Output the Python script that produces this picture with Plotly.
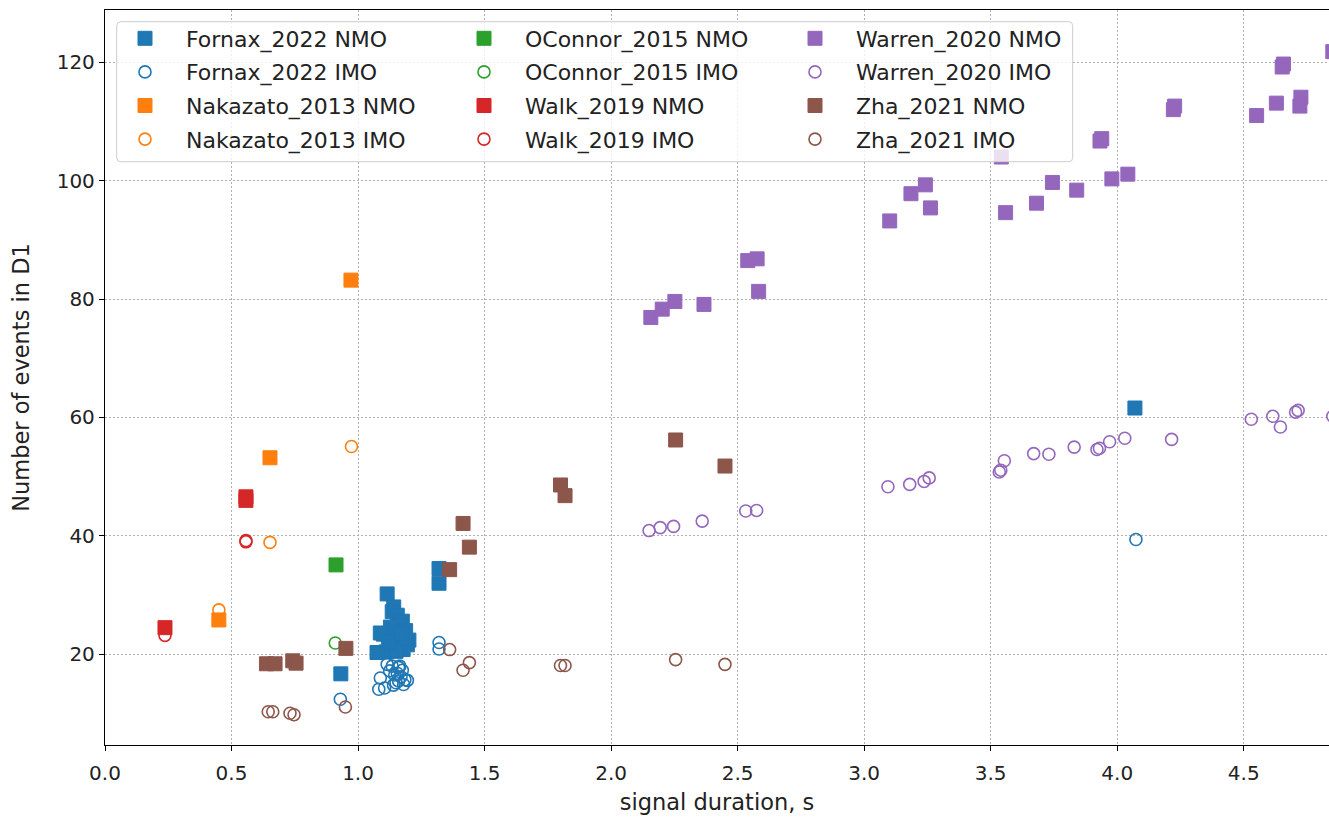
import plotly.graph_objects as go

# ---------------- data ----------------
fornax_nmo_x = [0.932, 1.320, 1.320, 4.070,
                1.115, 1.141, 1.135, 1.155, 1.175, 1.165, 1.188, 1.128, 1.100, 1.088,
                1.145, 1.201, 1.195, 1.160, 1.178, 1.130, 1.110, 1.075, 1.150, 1.185,
                1.170, 1.120]
fornax_nmo_y = [16.7, 34.5, 32.0, 61.6,
                30.2, 28.0, 27.2, 26.6, 25.6, 25.0, 24.0, 24.6, 23.4, 23.6,
                23.0, 22.4, 21.6, 22.0, 20.8, 20.6, 20.4, 20.3, 20.5, 22.8,
                23.5, 22.0]
fornax_imo_x = [0.930, 1.320, 1.320, 4.074,
                1.082, 1.105, 1.088, 1.115, 1.135, 1.125, 1.145, 1.150, 1.160, 1.170,
                1.175, 1.185, 1.195, 1.160, 1.140, 1.180, 1.155, 1.165]
fornax_imo_y = [12.4, 22.0, 20.9, 39.4,
                14.1, 14.3, 16.0, 18.3, 18.0, 17.2, 16.5, 15.2, 15.5, 16.2,
                17.3, 15.7, 15.6, 17.8, 14.8, 14.9, 16.8, 18.0]

nakazato_nmo_x = [0.450, 0.652, 0.972]
nakazato_nmo_y = [25.8, 53.2, 83.2]
nakazato_imo_x = [0.450, 0.652, 0.974]
nakazato_imo_y = [27.5, 38.9, 55.1]

oconnor_nmo_x = [0.913]
oconnor_nmo_y = [35.1]
oconnor_imo_x = [0.910]
oconnor_imo_y = [21.9]

walk_nmo_x = [0.237, 0.557, 0.557]
walk_nmo_y = [24.5, 46.0, 46.6]
walk_imo_x = [0.237, 0.557, 0.557]
walk_imo_y = [23.2, 39.0, 39.2]

warren_nmo_x = [2.157, 2.202, 2.252, 2.367, 2.540, 2.577, 2.583, 3.101, 3.185, 3.242,
                3.262, 3.542, 3.559, 3.681, 3.744, 3.840, 3.932, 3.939, 3.979, 4.042,
                4.222, 4.227, 4.551, 4.629, 4.652, 4.657, 4.722, 4.726, 4.852]
warren_nmo_y = [76.9, 78.3, 79.6, 79.1, 86.5, 86.8, 81.3, 93.2, 97.8, 99.3,
                95.4, 104.0, 94.6, 96.2, 99.7, 98.4, 106.7, 107.1, 100.3, 101.1,
                112.0, 112.6, 111.0, 113.1, 119.2, 119.7, 112.6, 114.1, 121.8]
warren_imo_x = [2.150, 2.194, 2.247, 2.360, 2.532, 2.575, 3.094, 3.180, 3.237, 3.257,
                3.534, 3.540, 3.554, 3.670, 3.730, 3.830, 3.920, 3.930, 3.970, 4.030,
                4.215, 4.530, 4.615, 4.645, 4.705, 4.715, 4.852]
warren_imo_y = [40.9, 41.4, 41.6, 42.5, 44.2, 44.3, 48.3, 48.7, 49.2, 49.8,
                50.8, 51.1, 52.7, 53.9, 53.8, 55.0, 54.6, 54.8, 55.9, 56.5,
                56.3, 59.7, 60.2, 58.4, 60.9, 61.2, 60.2]

zha_nmo_x = [0.638, 0.672, 0.742, 0.755, 0.952, 1.362, 1.415, 1.440, 1.800, 1.818, 2.255, 2.450]
zha_nmo_y = [18.4, 18.4, 18.9, 18.5, 21.0, 34.3, 42.1, 38.1, 48.6, 46.8, 56.2, 51.8]
zha_imo_x = [0.645, 0.663, 0.731, 0.747, 0.950, 1.362, 1.415, 1.440, 1.800, 1.818, 2.255, 2.450]
zha_imo_y = [10.3, 10.3, 10.05, 9.8, 11.1, 20.8, 17.3, 18.6, 18.1, 18.1, 19.1, 18.3]

# name, x, y, colour, symbol, legend column
series = [
    ("Fornax_2022 NMO", fornax_nmo_x, fornax_nmo_y, "#1f77b4", "square", "legend"),
    ("Fornax_2022 IMO", fornax_imo_x, fornax_imo_y, "#1f77b4", "circle-open", "legend"),
    ("Nakazato_2013 NMO", nakazato_nmo_x, nakazato_nmo_y, "#ff7f0e", "square", "legend"),
    ("Nakazato_2013 IMO", nakazato_imo_x, nakazato_imo_y, "#ff7f0e", "circle-open", "legend"),
    ("OConnor_2015 NMO", oconnor_nmo_x, oconnor_nmo_y, "#2ca02c", "square", "legend2"),
    ("OConnor_2015 IMO", oconnor_imo_x, oconnor_imo_y, "#2ca02c", "circle-open", "legend2"),
    ("Walk_2019 NMO", walk_nmo_x, walk_nmo_y, "#d62728", "square", "legend2"),
    ("Walk_2019 IMO", walk_imo_x, walk_imo_y, "#d62728", "circle-open", "legend2"),
    ("Warren_2020 NMO", warren_nmo_x, warren_nmo_y, "#9467bd", "square", "legend3"),
    ("Warren_2020 IMO", warren_imo_x, warren_imo_y, "#9467bd", "circle-open", "legend3"),
    ("Zha_2021 NMO", zha_nmo_x, zha_nmo_y, "#8c564b", "square", "legend3"),
    ("Zha_2021 IMO", zha_imo_x, zha_imo_y, "#8c564b", "circle-open", "legend3"),
]

x_ticks = [0.0, 0.5, 1.0, 1.5, 2.0, 2.5, 3.0, 3.5, 4.0, 4.5]
x_ticklabels = ["0.0", "0.5", "1.0", "1.5", "2.0", "2.5", "3.0", "3.5", "4.0", "4.5"]
y_ticks = [20, 40, 60, 80, 100, 120]

FONT = "DejaVu Sans"
TXT = "#222222"
NB = "\u00a0"

fig = go.Figure()
for i, (name, xs, ys, color, sym, leg) in enumerate(series):
    if sym == "square":
        marker = dict(symbol="square", size=14, color=color, line=dict(color=color, width=1))
    else:
        marker = dict(symbol="circle-open", size=12, color=color, line=dict(color=color, width=1.6))
    fig.add_trace(go.Scatter(
        x=xs, y=ys, mode="markers", name=NB * 3 + name, marker=marker,
        legend=leg, legendgroup="g%d" % i, showlegend=True,
    ))

# legend frame (drawn like matplotlib's semi-transparent rounded box)
W, H = 1224.0, 735.0
x0, x1 = 0.00956, 0.7906
y0, y1 = 0.7936, 0.9841
rx, ry = 4 / W, 4 / H
frame_path = (
    f"M {x0+rx},{y1} L {x1-rx},{y1} Q {x1},{y1} {x1},{y1-ry} "
    f"L {x1},{y0+ry} Q {x1},{y0} {x1-rx},{y0} "
    f"L {x0+rx},{y0} Q {x0},{y0} {x0},{y0+ry} "
    f"L {x0},{y1-ry} Q {x0},{y1} {x0+rx},{y1} Z"
)
fig.add_shape(type="path", path=frame_path, xref="paper", yref="paper",
              fillcolor="rgba(255,255,255,0.8)", line=dict(color="#cccccc", width=1),
              layer="above")

leg_common = dict(
    orientation="v", traceorder="grouped", tracegroupgap=2,
    yanchor="top", y=1 - (17.5 - 10) / H, xanchor="left",
    bgcolor="rgba(0,0,0,0)", borderwidth=0,
    font=dict(family=FONT, size=22, color=TXT), itemwidth=30,
)

fig.update_layout(
    width=1329, height=817,
    paper_bgcolor="white", plot_bgcolor="white",
    margin=dict(l=105, r=0, t=10, b=72),
    font=dict(family=FONT, size=20, color=TXT),
    legend=dict(leg_common, x=(125 - 105) / W),
    legend2=dict(leg_common, x=(464 - 105) / W),
    legend3=dict(leg_common, x=(795 - 105) / W),
    showlegend=True,
)
fig.update_xaxes(
    range=[0, 4.837], tickvals=x_ticks, ticktext=x_ticklabels,
    showline=True, linecolor="black", linewidth=1.3, mirror=True,
    ticks="outside", ticklen=5, tickcolor="black", tickwidth=1.2,
    ticklabelstandoff=5,
    showgrid=True, gridcolor="#b0b0b0", griddash="1.5px,2.5px", gridwidth=1,
    zeroline=False,
    title=dict(text="signal duration, s", font=dict(family=FONT, size=22.5, color=TXT), standoff=10),
    tickfont=dict(family=FONT, size=20, color=TXT),
)
fig.update_yaxes(
    range=[4.68, 128.83], tickvals=y_ticks,
    showline=True, linecolor="black", linewidth=1.3, mirror=False,
    ticks="outside", ticklen=5, tickcolor="black", tickwidth=1.2,
    showgrid=True, gridcolor="#b0b0b0", griddash="1.5px,2.5px", gridwidth=1,
    zeroline=False,
    title=dict(text="Number of events in D1", font=dict(family=FONT, size=22.5, color=TXT), standoff=20),
    tickfont=dict(family=FONT, size=20, color=TXT),
)

fig.write_html("out.html")
